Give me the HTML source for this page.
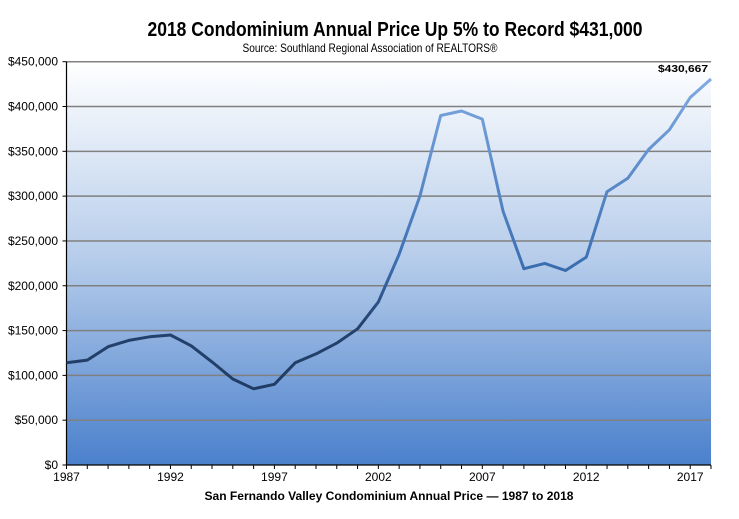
<!DOCTYPE html>
<html><head><meta charset="utf-8"><style>
body{margin:0;background:#fff;}
svg{display:block;font-family:"Liberation Sans",Arial,sans-serif;}
</style></head><body>
<svg width="739" height="519" viewBox="0 0 739 519">
<defs>
<linearGradient id="bg" x1="0" y1="0" x2="0" y2="1">
<stop offset="0" stop-color="#ffffff"/><stop offset="0.5" stop-color="#b4cbea"/><stop offset="1" stop-color="#4a80cc"/>
</linearGradient>
<linearGradient id="ln" gradientUnits="userSpaceOnUse" x1="0" y1="465" x2="0" y2="61">
<stop offset="0" stop-color="#1c3558"/><stop offset="0.35" stop-color="#24426e"/><stop offset="0.5" stop-color="#3c6fb2"/><stop offset="1" stop-color="#86b0e6"/>
</linearGradient>
</defs>
<text x="395" y="36" text-anchor="middle" font-size="20" font-weight="bold" textLength="495" lengthAdjust="spacingAndGlyphs">2018 Condominium Annual Price Up 5% to Record $431,000</text>
<text x="370" y="52" text-anchor="middle" font-size="12" textLength="255" lengthAdjust="spacingAndGlyphs">Source: Southland Regional Association of REALTORS®</text>
<rect x="66.5" y="61.7" width="644.5" height="403.3" fill="url(#bg)"/>
<g id="grid"></g>
<g id="axes"></g>
<path id="line" fill="none" stroke="url(#ln)" stroke-width="3" stroke-linejoin="round"/>
<text x="708" y="72" text-anchor="end" font-size="10" font-weight="bold" textLength="50" lengthAdjust="spacingAndGlyphs">$430,667</text>
<text x="389" y="500" text-anchor="middle" font-size="12" font-weight="bold" textLength="369" lengthAdjust="spacingAndGlyphs">San Fernando  Valley Condominium  Annual  Price — 1987 to 2018</text>
</svg>
<script>
const years=[1987,1988,1989,1990,1991,1992,1993,1994,1995,1996,1997,1998,1999,2000,2001,2002,2003,2004,2005,2006,2007,2008,2009,2010,2011,2012,2013,2014,2015,2016,2017,2018];
const prices=[114000,117000,132000,139000,143000,145000,133000,115000,96000,85000,90000,114000,124000,136000,152000,182000,235000,300000,390000,395000,386000,283000,219000,225000,217000,232000,305000,320000,352000,374000,410000,430667];
const yTicks=[0,50000,100000,150000,200000,250000,300000,350000,400000,450000];
const xLabels=[1987,1992,1997,2002,2007,2012,2017];
const NS="http://www.w3.org/2000/svg";
const X0=66.5,X1=711,Y0=465,Y1=61.7;
const xs=y=>X0+(y-1987)*(X1-X0)/31;
const ys=v=>Y0-v*(Y0-Y1)/450000;
const grid=document.getElementById('grid'),axes=document.getElementById('axes');
function mk(t,a,p){const e=document.createElementNS(NS,t);for(const k in a)e.setAttribute(k,a[k]);p.appendChild(e);return e;}
yTicks.forEach(v=>{
 if(v>0){const l=mk('line',{x1:X0,x2:X1,y1:ys(v),y2:ys(v),stroke:'#808080','stroke-width':1.5},grid);
 
 }
 const t=mk('text',{x:58,y:ys(v)+4,'text-anchor':'end','font-size':12},axes);
 
 
 t.textContent='$'+v.toLocaleString('en-US');
 mk('line',{x1:X0-4,x2:X0,y1:ys(v),y2:ys(v),stroke:'#000'},axes);
});
mk('line',{x1:X0,x2:X0,y1:Y1,y2:Y0,stroke:'#000','stroke-width':1.2},axes);
mk('line',{x1:X0,x2:X1,y1:Y0,y2:Y0,stroke:'#000','stroke-width':1.2},axes);
years.forEach(y=>{mk('line',{x1:xs(y),x2:xs(y),y1:Y0,y2:Y0+4,stroke:'#000'},axes);});
xLabels.forEach(y=>{const t=mk('text',{x:xs(y),y:Y0+16,'text-anchor':'middle','font-size':12},axes);
 
 
 t.textContent=y;});
document.getElementById('line').setAttribute('d',years.map((y,i)=>(i?'L':'M')+xs(y).toFixed(1)+' '+ys(prices[i]).toFixed(1)).join(' '));
</script>
</body></html>
